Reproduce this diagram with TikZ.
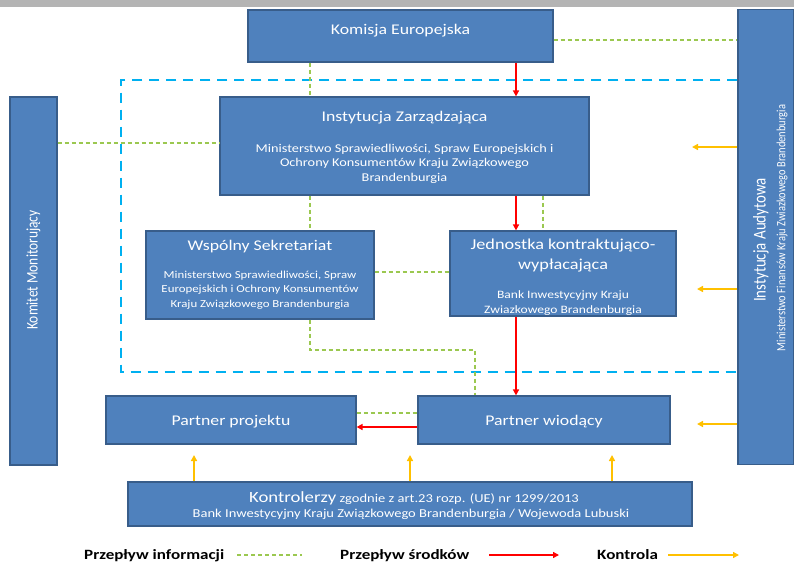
\documentclass[tikz,border=0pt]{standalone}
\usepackage{fontspec}
\setmainfont{Carlito}
\newfontfamily\widefont[FakeStretch=1.2]{Carlito}
\newfontfamily\narrowfont[FakeStretch=0.83]{Carlito}
\usetikzlibrary{arrows.meta}
\definecolor{boxfill}{RGB}{79,129,189}
\definecolor{boxline}{RGB}{56,93,138}
\definecolor{infogreen}{RGB}{155,200,80}
\definecolor{moneyred}{RGB}{255,0,0}
\definecolor{ctrlorange}{RGB}{255,192,0}
\definecolor{frameblue}{RGB}{0,176,240}
\definecolor{topgray}{RGB}{180,180,180}
\tikzset{
  orgbox/.style={draw=boxline, line width=1.2pt, fill=boxfill, inner sep=0pt},
  ttltext/.style={text=white, anchor=base, inner sep=0pt, align=center, font=\widefont\fontsize{14.8}{20}\selectfont},
  subtext/.style={text=white, anchor=base, inner sep=0pt, align=center, font=\widefont\fontsize{#1}{14.5}\selectfont},
  rottext/.style={text=white, anchor=center, inner sep=0pt, rotate=90, font=\narrowfont\fontsize{#1}{20}\selectfont},
  infoline/.style={draw=infogreen, line width=1.3pt, dash pattern=on 4pt off 3pt},
  moneyline/.style={draw=moneyred, line width=1.5pt, -{Triangle[length=6pt,width=6pt]}},
  ctrlline/.style={draw=ctrlorange, line width=1.5pt, -{Triangle[length=6pt,width=6pt]}},
  frameline/.style={draw=frameblue, line width=2.6pt, dash pattern=on 10pt off 7pt},
  legendtext/.style={font=\widefont\bfseries\fontsize{14.2}{16}\selectfont, anchor=base west, inner sep=0pt}
}
\begin{document}
\begin{tikzpicture}[x=1pt,y=-1pt]
\useasboundingbox (0,0) rectangle (794,563);
\clip (0,0) rectangle (794,563);
\fill[topgray] (0,0) rectangle (794,7);
% boxes
\node[orgbox, minimum width=305pt, minimum height=52pt] (KE) at (400.5,36) {};
\node[orgbox, minimum width=369pt, minimum height=98pt] (IZ) at (404.5,146) {};
\node[orgbox, minimum width=228pt, minimum height=88pt] (WS) at (260,275) {};
\node[orgbox, minimum width=226pt, minimum height=85pt] (JK) at (563,273.5) {};
\node[orgbox, minimum width=250pt, minimum height=48pt] (PP) at (231,420) {};
\node[orgbox, minimum width=252pt, minimum height=48pt] (PW) at (544,420) {};
\node[orgbox, minimum width=564pt, minimum height=44pt] (KO) at (410,504) {};
\node[orgbox, minimum width=47pt, minimum height=368pt] (KM) at (33.5,281) {};
\node[orgbox, minimum width=56pt, minimum height=455pt] (IA) at (766,237) {};
% texts (anchor=base of multi-line nodes is the baseline of the last line)
\node[ttltext] (KEt) at (400.5,34) {Komisja Europejska};
\node[ttltext] (IZt) at (404.5,121) {Instytucja Zarządzająca};
\node[subtext=11.9] (IZs) at (404.5,181) {Ministerstwo Sprawiedliwości, Spraw Europejskich i\\Ochrony Konsumentów Kraju Związkowego\\Brandenburgia};
\node[ttltext] (WSt) at (260,250) {Wspólny Sekretariat};
\node[subtext=10.7] (WSs) at (260,307) {Ministerstwo Sprawiedliwości, Spraw\\Europejskich i Ochrony Konsumentów\\Kraju Związkowego Brandenburgia};
\node[ttltext, font=\widefont\fontsize{15.2}{20}\selectfont] (JKt) at (563,269) {Jednostka kontraktująco-\\wypłacająca};
\node[subtext=11.3] (JKs) at (563,313) {Bank Inwestycyjny Kraju\\Zwiazkowego Brandenburgia};
\node[ttltext] (PPt) at (231,425) {Partner projektu};
\node[ttltext] (PWt) at (544,425) {Partner wiodący};
\node[subtext=12.1] (KOt) at (414,502) {{\fontsize{15.6}{18}\selectfont Kontrolerzy} zgodnie z art.23 rozp. (UE) nr 1299/2013};
\node[subtext=12.1] (KOs) at (411,517) {Bank Inwestycyjny Kraju Związkowego Brandenburgia / Wojewoda Lubuski};
\node[rottext=16.2] (KMt) at (33.5,270) {Komitet Monitorujący};
\node[rottext=18] (IAt) at (761,240) {Instytucja Audytowa};
\node[rottext=12.6] (IAs) at (782,228) {Ministerstwo Finansów Kraju Zwiazkowego Brandenburgia};
% dashed frame
\coordinate (FTL) at (121,80);
\coordinate (FBL) at (121,372);
\draw[frameline] (IA.west |- FTL) -- (FTL) -- (FBL) -- (IA.west |- FBL);
% information flow
\coordinate (KEr) at (553,40);
\draw[infoline] (KE.east |- KEr) -- (IA.west |- KEr);
\draw[infoline] (KE.south -| 310,0) -- (IZ.north -| 310,0);
\draw[infoline] (KM.east |- 0,143) -- (IZ.west |- 0,143);
\draw[infoline] (IZ.south -| 310,0) -- (WS.north -| 310,0);
\draw[infoline] (IZ.south -| 543,0) -- (JK.north -| 543,0);
\draw[infoline] (WS.east |- 0,272) -- (JK.west |- 0,272);
\coordinate (G1) at (310,350);
\coordinate (G2) at (475,350);
\draw[infoline] (WS.south -| G1) -- (G1) -- (G2) -- (PW.north -| G2);
\draw[infoline] (PP.east |- 0,413) -- (PW.west |- 0,413);
% money flow
\draw[moneyline] (KE.south -| 516,0) -- (IZ.north -| 516,0);
\draw[moneyline] (IZ.south -| 516,0) -- (JK.north -| 516,0);
\draw[moneyline] (JK.south -| 516,0) -- (PW.north -| 516,0);
\draw[moneyline] (PW.west |- 0,427) -- (PP.east |- 0,427);
% control
\coordinate (C1) at (692,147);
\coordinate (C2) at (697,289);
\coordinate (C3) at (697,424);
\draw[ctrlline] (IA.west |- C1) -- (C1);
\draw[ctrlline] (IA.west |- C2) -- (C2);
\draw[ctrlline] (IA.west |- C3) -- (C3);
\coordinate (U1) at (194,455);
\coordinate (U2) at (410,455);
\coordinate (U3) at (612,455);
\draw[ctrlline] (KO.north -| U1) -- (U1);
\draw[ctrlline] (KO.north -| U2) -- (U2);
\draw[ctrlline] (KO.north -| U3) -- (U3);
% legend
\node[legendtext] (L1) at (84,559) {Przepływ informacji};
\coordinate (L1a) at (237,555); \coordinate (L1b) at (302,555);
\draw[infoline] (L1a) -- (L1b);
\node[legendtext] (L2) at (340,559) {Przepływ środków};
\coordinate (L2a) at (489,555); \coordinate (L2b) at (559,555);
\draw[moneyline] (L2a) -- (L2b);
\node[legendtext] (L3) at (597,559) {Kontrola};
\coordinate (L3a) at (668,555); \coordinate (L3b) at (739,555);
\draw[ctrlline] (L3a) -- (L3b);
\end{tikzpicture}
\end{document}
